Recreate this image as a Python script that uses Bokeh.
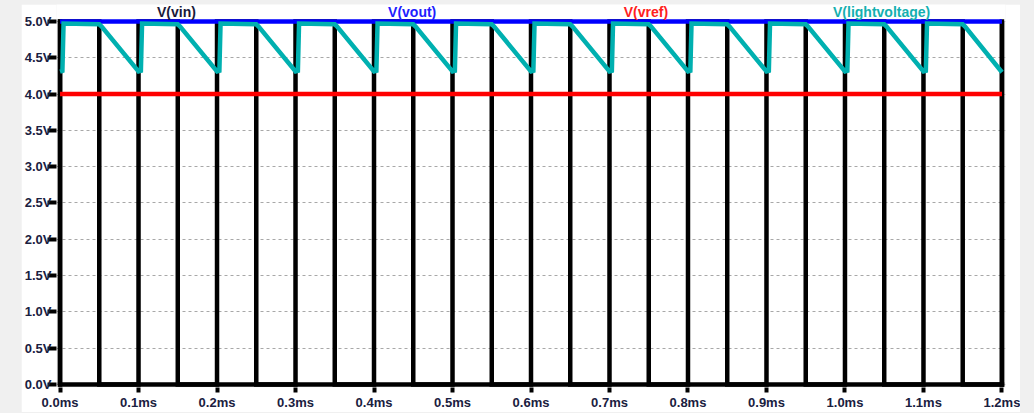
from bokeh.plotting import figure
from bokeh.layouts import column
from bokeh.models import FixedTicker, Label, Range1d
from bokeh.embed import file_html
from bokeh.resources import INLINE

# ---------------- data ----------------
# V(vin): square wave, edge times (ms) and the level after each edge (V)
vin_edge_ms = [0.00, 0.05, 0.10, 0.15, 0.20, 0.25, 0.30, 0.35, 0.40, 0.45,
               0.50, 0.55, 0.60, 0.65, 0.70, 0.75, 0.80, 0.85, 0.90, 0.95,
               1.00, 1.05, 1.10, 1.15, 1.20]
vin_level_v = [5.0, 0.0, 5.0, 0.0, 5.0, 0.0, 5.0, 0.0, 5.0, 0.0,
               5.0, 0.0, 5.0, 0.0, 5.0, 0.0, 5.0, 0.0, 5.0, 0.0,
               5.0, 0.0, 5.0, 0.0, 5.0]
vin_start_v = 0.0

# V(vout) and V(vref): constant traces
vout_t = [0.0, 1.2]
vout_v = [5.0, 5.0]
vref_t = [0.0, 1.2]
vref_v = [4.0, 4.0]

# V(lightvoltage): breakpoints (ms, V)
light_t = [0.000, 0.003, 0.0045, 0.050, 0.053,
           0.100, 0.103, 0.1045, 0.150, 0.153,
           0.200, 0.203, 0.2045, 0.250, 0.253,
           0.300, 0.303, 0.3045, 0.350, 0.353,
           0.400, 0.403, 0.4045, 0.450, 0.453,
           0.500, 0.503, 0.5045, 0.550, 0.553,
           0.600, 0.603, 0.6045, 0.650, 0.653,
           0.700, 0.703, 0.7045, 0.750, 0.753,
           0.800, 0.803, 0.8045, 0.850, 0.853,
           0.900, 0.903, 0.9045, 0.950, 0.953,
           1.000, 1.003, 1.0045, 1.050, 1.053,
           1.100, 1.103, 1.1045, 1.150, 1.153,
           1.200]
light_v = [4.31, 4.32, 4.97, 4.96, 4.93,
           4.31, 4.32, 4.97, 4.96, 4.93,
           4.31, 4.32, 4.97, 4.96, 4.93,
           4.31, 4.32, 4.97, 4.96, 4.93,
           4.31, 4.32, 4.97, 4.96, 4.93,
           4.31, 4.32, 4.97, 4.96, 4.93,
           4.31, 4.32, 4.97, 4.96, 4.93,
           4.31, 4.32, 4.97, 4.96, 4.93,
           4.31, 4.32, 4.97, 4.96, 4.93,
           4.31, 4.32, 4.97, 4.96, 4.93,
           4.31, 4.32, 4.97, 4.96, 4.93,
           4.31, 4.32, 4.97, 4.96, 4.93,
           4.30]

y_ticks = [0.0, 0.5, 1.0, 1.5, 2.0, 2.5, 3.0, 3.5, 4.0, 4.5, 5.0]
y_tick_labels = ["0.0V", "0.5V", "1.0V", "1.5V", "2.0V", "2.5V",
                 "3.0V", "3.5V", "4.0V", "4.5V", "5.0V"]
x_ticks = [0.0, 0.1, 0.2, 0.3, 0.4, 0.5, 0.6, 0.7, 0.8, 0.9, 1.0, 1.1, 1.2]
x_tick_labels = ["0.0ms", "0.1ms", "0.2ms", "0.3ms", "0.4ms", "0.5ms", "0.6ms",
                 "0.7ms", "0.8ms", "0.9ms", "1.0ms", "1.1ms", "1.2ms"]

trace_names = ["V(vin)", "V(vout)", "V(vref)", "V(lightvoltage)"]
trace_colors = ["#000000", "#0000ff", "#ff0000", "#00b0b0"]
label_colors = ["#1a1a3a", "#2020ff", "#ff2020", "#14b0b0"]

X_MIN, X_MAX = 0.0, 1.2
Y_MIN, Y_MAX = 0.0, 5.0

# ---------------- figure ----------------
FONT = "Liberation Sans"
TICK_COLOR = "#1a2040"
LW = 4.5

p = figure(width=999, height=408,
           x_range=Range1d(-0.0045, 1.2045), y_range=Range1d(-0.041, 5.233),
           output_backend="svg", toolbar_location=None,
           min_border_left=34, min_border_right=15,
           min_border_top=0, min_border_bottom=23)
p.outline_line_color = None
p.background_fill_color = "white"
p.border_fill_color = "white"
p.margin = (4, 14, 1, 21)

# grid (horizontal dashed only; vertical ones sit under the vin edges)
p.xgrid.grid_line_color = None
p.ygrid.ticker = FixedTicker(ticks=y_ticks)
p.ygrid.grid_line_color = "#a8a8a8"
p.ygrid.grid_line_dash = "3 3"
p.ygrid.grid_line_width = 1

# axes
p.xaxis.ticker = FixedTicker(ticks=x_ticks)
p.xaxis.major_label_overrides = dict(zip(x_ticks, x_tick_labels))
p.yaxis.ticker = FixedTicker(ticks=y_ticks)
p.yaxis.major_label_overrides = dict(zip(y_ticks, y_tick_labels))
for ax in (p.xaxis, p.yaxis):
    ax.axis_line_color = None
    ax.major_tick_line_color = "black"
    ax.major_tick_line_width = 4
    ax.major_tick_in = 0
    ax.minor_tick_out = 0
    ax.minor_tick_in = 0
    ax.major_label_text_font = FONT
    ax.major_label_text_font_style = "bold"
    ax.major_label_text_font_size = "13px"
    ax.major_label_text_color = TICK_COLOR
p.xaxis.major_tick_out = 5
p.xaxis.major_label_standoff = 2
p.yaxis.major_tick_out = 9
p.yaxis.major_label_standoff = -4

# plot frame box (bottom, left, right)
p.segment(x0=[X_MIN, X_MIN, X_MAX], y0=[Y_MIN, Y_MIN, Y_MIN],
          x1=[X_MAX, X_MIN, X_MAX], y1=[Y_MIN, Y_MAX, Y_MAX],
          line_color="black", line_width=LW, line_cap="square")

# V(vin) as step polyline
vx, vy = [vin_edge_ms[0]], [vin_start_v]
prev = vin_start_v
for e, lvl in zip(vin_edge_ms, vin_level_v):
    vx += [e, e]
    vy += [prev, lvl]
    prev = lvl
p.line(vx, vy, line_color=trace_colors[0], line_width=LW, line_join="miter")
p.line(vout_t, vout_v, line_color=trace_colors[1], line_width=LW)
p.line(vref_t, vref_v, line_color=trace_colors[2], line_width=LW)
p.line(light_t, light_v, line_color=trace_colors[3], line_width=LW,
       line_join="miter")

# trace labels above the plot
label_x = [0.1483, 0.4486, 0.7464, 1.0467]
for name, col, lx in zip(trace_names, label_colors, label_x):
    p.add_layout(Label(x=lx, y=5.13, text=name, text_align="center",
                       text_baseline="alphabetic", text_font=FONT,
                       text_font_style="bold", text_font_size="14px",
                       text_color=col))

page = column(p, styles={"background-color": "#f0f0f0"})
open("out.html", "w").write(file_html(page, INLINE))
